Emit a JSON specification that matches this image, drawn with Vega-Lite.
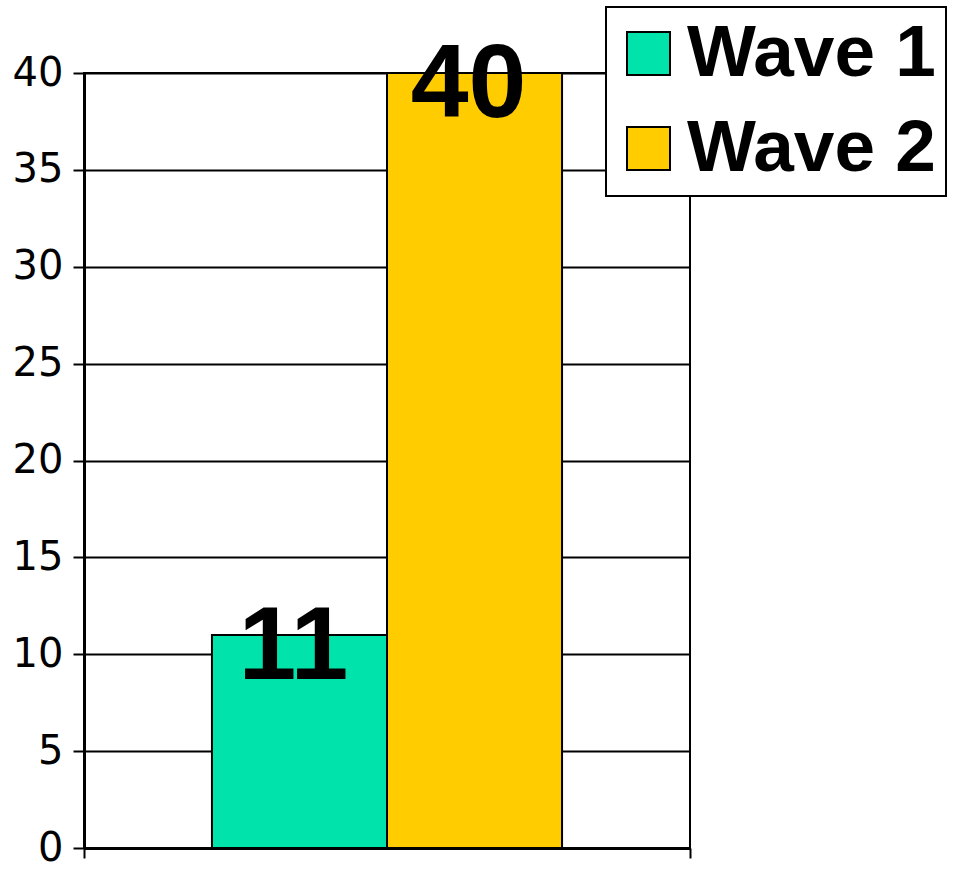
{
  "$schema": "https://vega.github.io/schema/vega-lite/v6.json",
  "autosize": {"type": "none"},
  "padding": {"left": 84, "top": 73, "right": 271, "bottom": 24},
  "width": 606,
  "height": 775,
  "background": "white",
  "data": {
    "values": [
      {"group": "All", "wave": "Wave 1", "value": 11},
      {"group": "All", "wave": "Wave 2", "value": 40}
    ]
  },
  "encoding": {
    "x": {
      "field": "group",
      "type": "nominal",
      "title": null,
      "scale": {"paddingInner": 0, "paddingOuter": 0},
      "axis": {
        "labels": false,
        "ticks": true,
        "tickBand": "extent",
        "tickSize": 10,
        "tickColor": "black",
        "tickWidth": 2,
        "domainColor": "black",
        "domainWidth": 3
      }
    },
    "xOffset": {
      "field": "wave",
      "type": "nominal",
      "scale": {"paddingInner": 0, "paddingOuter": 0.731}
    },
    "y": {
      "field": "value",
      "type": "quantitative",
      "title": null,
      "scale": {"domain": [0, 40], "nice": false},
      "axis": {
        "values": [0, 5, 10, 15, 20, 25, 30, 35, 40],
        "labelFont": "DejaVu Sans",
        "labelFontSize": 40,
        "labelColor": "black",
        "labelPadding": 10,
        "tickSize": 11,
        "tickColor": "black",
        "tickWidth": 2,
        "domainColor": "black",
        "domainWidth": 3,
        "grid": true,
        "gridColor": "black",
        "gridWidth": 2,
        "gridOpacity": 1
      }
    }
  },
  "layer": [
    {
      "mark": {"type": "bar", "stroke": "black", "strokeWidth": 2, "opacity": 1},
      "encoding": {
        "color": {
          "field": "wave",
          "type": "nominal",
          "scale": {"domain": ["Wave 1", "Wave 2"], "range": ["#00E3AA", "#FFCC00"]},
          "legend": {
            "title": null,
            "orient": "none",
            "legendX": 522,
            "legendY": -66,
            "strokeColor": "black",
            "fillColor": "white",
            "padding": 10,
            "symbolType": "square",
            "symbolSize": 1849,
            "symbolStrokeColor": "black",
            "symbolStrokeWidth": 2,
            "symbolOpacity": 1,
            "symbolOffset": -4,
            "labelFont": "Liberation Sans",
            "labelFontWeight": "bold",
            "labelFontSize": 73,
            "labelColor": "black",
            "labelOffset": 2,
            "labelLimit": 0,
            "rowPadding": 21,
            "encode": {
              "legend": {"update": {"strokeWidth": {"value": 2}, "width": {"value": 380}}}
            }
          }
        }
      }
    },
    {
      "mark": {
        "type": "text",
        "font": "Liberation Sans",
        "fontWeight": "bold",
        "fontSize": 104,
        "color": "black",
        "baseline": "alphabetic",
        "align": "center",
        "dy": 44,
        "dx": -6
      },
      "encoding": {
        "text": {"field": "value", "type": "quantitative"}
      }
    }
  ],
  "config": {
    "view": {"stroke": "black", "strokeWidth": 2},
    "axis": {"labelFlush": false}
  }
}
